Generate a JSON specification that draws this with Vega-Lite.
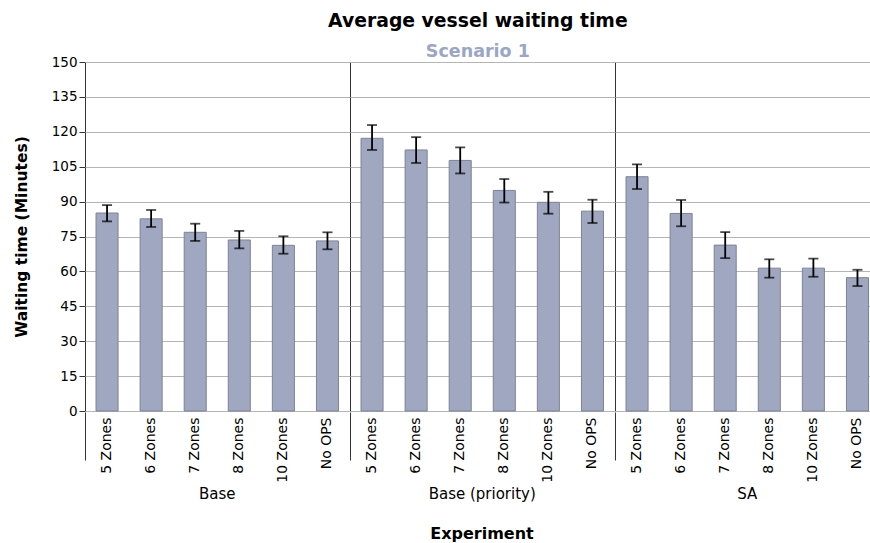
{
  "$schema": "https://vega.github.io/schema/vega-lite/v6.json",
  "padding": {"left": 14, "top": 11, "right": 0, "bottom": 0},
  "title": {
    "text": "Average vessel waiting time",
    "subtitle": "Scenario 1",
    "font": "DejaVu Sans",
    "fontSize": 18.8,
    "fontWeight": "bold",
    "color": "black",
    "subtitleFont": "DejaVu Sans",
    "subtitleFontSize": 17.5,
    "subtitleFontWeight": "bold",
    "subtitleColor": "#9aa6c8",
    "subtitlePadding": 12,
    "anchor": "middle",
    "dx": 31,
    "offset": -5
  },
  "data": {
    "values": [
      {"group": "Base", "cat": "5 Zones", "mean": 85.1, "lo": 81.5, "hi": 88.5},
      {"group": "Base", "cat": "6 Zones", "mean": 82.6, "lo": 79.1, "hi": 86.4},
      {"group": "Base", "cat": "7 Zones", "mean": 76.8, "lo": 73.1, "hi": 80.5},
      {"group": "Base", "cat": "8 Zones", "mean": 73.5, "lo": 69.9, "hi": 77.4},
      {"group": "Base", "cat": "10 Zones", "mean": 71.2, "lo": 67.6, "hi": 75.1},
      {"group": "Base", "cat": "No OPS", "mean": 73.1, "lo": 69.5, "hi": 76.8},
      {"group": "Base (priority)", "cat": "5 Zones", "mean": 117.2, "lo": 112.2, "hi": 122.9},
      {"group": "Base (priority)", "cat": "6 Zones", "mean": 112.2, "lo": 106.6, "hi": 117.7},
      {"group": "Base (priority)", "cat": "7 Zones", "mean": 107.7, "lo": 102.1, "hi": 113.3},
      {"group": "Base (priority)", "cat": "8 Zones", "mean": 94.8, "lo": 89.6, "hi": 99.7},
      {"group": "Base (priority)", "cat": "10 Zones", "mean": 89.7, "lo": 84.8, "hi": 94.2},
      {"group": "Base (priority)", "cat": "No OPS", "mean": 85.9, "lo": 80.8, "hi": 90.8},
      {"group": "SA", "cat": "5 Zones", "mean": 100.7, "lo": 95.4, "hi": 106.0},
      {"group": "SA", "cat": "6 Zones", "mean": 84.9, "lo": 79.4, "hi": 90.7},
      {"group": "SA", "cat": "7 Zones", "mean": 71.3, "lo": 65.7, "hi": 76.9},
      {"group": "SA", "cat": "8 Zones", "mean": 61.4, "lo": 57.3, "hi": 65.2},
      {"group": "SA", "cat": "10 Zones", "mean": 61.4, "lo": 57.7, "hi": 65.5},
      {"group": "SA", "cat": "No OPS", "mean": 57.3, "lo": 53.7, "hi": 60.7}
    ]
  },
  "facet": {
    "column": {
      "field": "group",
      "type": "nominal",
      "sort": ["Base", "Base (priority)", "SA"],
      "title": "Experiment",
      "header": {
        "labelOrient": "bottom",
        "titleOrient": "bottom",
        "labelFont": "DejaVu Sans",
        "labelFontSize": 15,
        "labelColor": "black",
        "labelPadding": 5,
        "titleFont": "DejaVu Sans",
        "titleFontSize": 16,
        "titleFontWeight": "bold",
        "titleColor": "black",
        "titlePadding": 13
      }
    }
  },
  "spacing": 0,
  "spec": {
    "width": 264.5,
    "height": 349,
    "encoding": {
      "x": {
        "field": "cat",
        "type": "nominal",
        "sort": ["5 Zones", "6 Zones", "7 Zones", "8 Zones", "10 Zones", "No OPS"],
        "scale": {"paddingInner": 0, "paddingOuter": 0},
        "axis": {
          "title": null,
          "domain": false,
          "bandPosition": 0,
          "labelAngle": -90,
          "labelFont": "DejaVu Sans",
          "labelFontSize": 14,
          "labelColor": "black",
          "labelPadding": -43,
          "tickSize": 48,
          "tickColor": "#333333",
          "tickWidth": 1,
          "tickOpacity": {"condition": {"test": "datum.value === '5 Zones'", "value": 1}, "value": 0},
          "grid": true,
          "gridColor": "#333333",
          "gridWidth": 1,
          "gridOpacity": {"condition": {"test": "datum.value === '5 Zones'", "value": 1}, "value": 0}
        }
      }
    },
    "layer": [
      {
        "mark": {"type": "bar", "width": {"band": 0.5}, "color": "#a0a7c0", "stroke": "#7c8399", "strokeWidth": 1},
        "encoding": {
          "y": {
            "field": "mean",
            "type": "quantitative",
            "scale": {"domain": [0, 150], "nice": false},
            "axis": {
              "title": "Waiting time (Minutes)",
              "values": [0, 15, 30, 45, 60, 75, 90, 105, 120, 135, 150]
            }
          }
        }
      },
      {
        "mark": {"type": "errorbar", "ticks": true, "color": "black", "thickness": 1.8, "size": 10},
        "encoding": {
          "y": {
            "field": "lo",
            "type": "quantitative",
            "axis": {
              "title": "Waiting time (Minutes)",
              "values": [0, 15, 30, 45, 60, 75, 90, 105, 120, 135, 150]
            }
          },
          "y2": {"field": "hi"}
        }
      }
    ]
  },
  "config": {
    "view": {"stroke": null},
    "axisY": {
      "titleFont": "DejaVu Sans",
      "titleFontSize": 15.5,
      "titleFontWeight": "bold",
      "titleColor": "black",
      "titlePadding": 22,
      "labelFont": "DejaVu Sans",
      "labelFontSize": 13.5,
      "labelColor": "black",
      "labelPadding": 2,
      "tickSize": 6,
      "tickColor": "#333333",
      "domainColor": "#333333",
      "gridColor": "#b4b4b4",
      "gridWidth": 1
    }
  }
}
